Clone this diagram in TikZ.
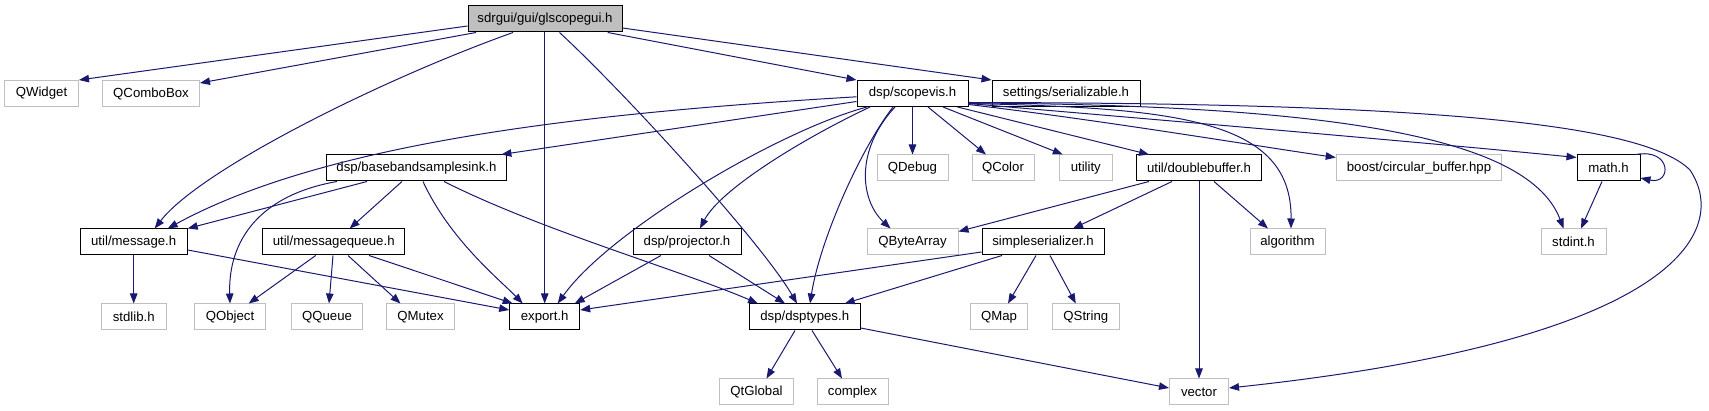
\documentclass[tikz,border=0pt]{standalone}
\usepackage{fontspec}
\setmainfont{Liberation Sans}
\usetikzlibrary{arrows.meta}
\definecolor{edgecol}{HTML}{191970}
\definecolor{greyseventyfive}{HTML}{BFBFBF}
\begin{document}
\begin{tikzpicture}[x=1pt,y=-1pt,
  box/.style={draw=black,line width=1pt,minimum height=26pt,inner sep=0pt,font=\fontsize{13.2}{15}\selectfont,anchor=center},
  ext/.style={box,draw=greyseventyfive},
  rootbox/.style={box,fill=greyseventyfive},
  dep/.style={draw=edgecol,line width=1pt,-{Triangle[length=10pt,width=7.5pt]}}]
\useasboundingbox (0,0) rectangle (1709,411);
% row 0
\node[rootbox,minimum width=154pt] (root) at (545,19) {sdrgui/gui/glscopegui.h};
% row 1
\node[ext,minimum width=74pt] (QWidget) at (41.5,93.5) {QWidget};
\node[ext,minimum width=97pt] (QComboBox) at (151,93.5) {QComboBox};
\node[box,minimum width=111pt] (scopevis) at (912.5,93.5) {dsp/scopevis.h};
\node[box,minimum width=148pt] (serializable) at (1066,93.5) {settings/serializable.h};
% row 2
\node[box,minimum width=180pt] (bbs) at (416.4,168) {dsp/basebandsamplesink.h};
\node[ext,minimum width=71pt] (QDebug) at (912.5,168) {QDebug};
\node[ext,minimum width=62pt] (QColor) at (1003,168) {QColor};
\node[ext,minimum width=53pt] (utility) at (1085.8,168) {utility};
\node[box,minimum width=125.5pt] (dbuf) at (1199,168) {util/doublebuffer.h};
\node[ext,minimum width=165.5pt] (boost) at (1419,168) {boost/circular\_buffer.hpp};
\node[box,minimum width=63pt] (math) at (1608.5,168) {math.h};
% row 3
\node[box,minimum width=107pt] (message) at (133.7,242) {util/message.h};
\node[box,minimum width=142pt] (mq) at (333.7,242) {util/messagequeue.h};
\node[box,minimum width=108pt] (projector) at (687,242) {dsp/projector.h};
\node[ext,minimum width=91pt] (QByteArray) at (912.5,242) {QByteArray};
\node[box,minimum width=122pt] (simpleser) at (1043,242) {simpleserializer.h};
\node[ext,minimum width=75pt] (algorithm) at (1287.5,242) {algorithm};
\node[ext,minimum width=65pt] (stdint) at (1573.5,242) {stdint.h};
% row 4
\node[ext,minimum width=64.6pt] (stdlib) at (133.7,317) {stdlib.h};
\node[ext,minimum width=71pt] (QObject) at (230,317) {QObject};
\node[ext,minimum width=71pt] (QQueue) at (327,317) {QQueue};
\node[ext,minimum width=68pt] (QMutex) at (420.5,317) {QMutex};
\node[box,minimum width=70pt] (export) at (544.7,317) {export.h};
\node[box,minimum width=111pt] (dsptypes) at (804.7,317) {dsp/dsptypes.h};
\node[ext,minimum width=57.4pt] (QMap) at (999,317) {QMap};
\node[ext,minimum width=67pt] (QString) at (1085.8,317) {QString};
% row 5
\node[ext,minimum width=73.4pt] (QtGlobal) at (756.5,392) {QtGlobal};
\node[ext,minimum width=71pt] (complex) at (852.5,392) {complex};
\node[ext,minimum width=59pt] (vector) at (1199,392) {vector};

% root edges
\draw[dep] ([yshift=-7pt]root.west) -- (QWidget.north east);
\draw[dep] ([xshift=-69pt]root.south) -- ([yshift=-3pt]QComboBox.north east);
\draw[dep] ([xshift=-32pt]root.south) .. controls (380,80) and (200,170) .. ([xshift=21pt]message.north);
\draw[dep] (export.north |- root.south) -- (export.north);
\draw[dep] ([xshift=14.5pt]root.south) .. controls (620,88) and (760,240) .. ([xshift=-7.7pt]dsptypes.north);
\draw[dep] ([xshift=62.7pt]root.south) -- (scopevis.north west);
\draw[dep] ([yshift=-9pt]root.east) -- (serializable.north west);

% scopevis edges
\draw[dep] ([yshift=-3.3pt]scopevis.west) .. controls (600,112) and (330,140) .. ([xshift=34pt]message.north);
\draw[dep] ([yshift=-8pt]scopevis.west) -- ([xshift=85pt]bbs.north);
\draw[dep] ([xshift=-45.5pt]scopevis.south) .. controls (780,130) and (610,230) .. ([xshift=13pt]export.north);
\draw[dep] ([xshift=-42.5pt]scopevis.south) .. controls (800,140) and (720,190) .. ([xshift=13pt]projector.north);
\draw[dep] ([xshift=-19.5pt]scopevis.south) .. controls (860,150) and (820,240) .. ([xshift=5.3pt]dsptypes.north);
\draw[dep] ([xshift=-17.5pt]scopevis.south) .. controls (855,150) and (860,200) .. ([xshift=-22pt]QByteArray.north);
\draw[dep] (scopevis.south) -- (QDebug.north);
\draw[dep] ([xshift=15.5pt]scopevis.south) -- ([xshift=-17pt]QColor.north);
\draw[dep] ([xshift=30.5pt]scopevis.south) -- ([xshift=-23pt]utility.north);
\draw[dep] ([xshift=45pt]scopevis.south) -- ([xshift=-50pt]dbuf.north);
\draw[dep] ([yshift=-11pt]scopevis.east) .. controls (1100,120) and (1250,145) .. ([yshift=-3pt]boost.north west);
\draw[dep] ([yshift=-10pt]scopevis.east) .. controls (1100,115) and (1400,140) .. ([yshift=-3pt]math.north west);
\draw[dep] ([yshift=-10pt]scopevis.east) .. controls (1180,108) and (1292,120) .. ([xshift=3.5pt]algorithm.north);
\draw[dep] ([yshift=-9.5pt]scopevis.east) .. controls (1350,105) and (1530,140) .. ([xshift=-10pt]stdint.north);
\coordinate (vbend) at (1690,170);
\draw[dep] ([yshift=-9pt]scopevis.east) .. controls (1400,103) and (1640,120) .. (vbend) .. controls (1730,230) and (1680,340) .. ([yshift=4pt]vector.east);

% basebandsamplesink edges
\draw[dep] ([xshift=-79.4pt]bbs.south) .. controls (260,195) and (228,240) .. (QObject.north);
\draw[dep] ([xshift=-49.4pt]bbs.south) -- (message.north east);
\draw[dep] ([xshift=-14.4pt]bbs.south) -- ([xshift=16pt]mq.north);
\draw[dep] ([xshift=6.6pt]bbs.south) .. controls (450,240) and (500,280) .. ([xshift=-22pt]export.north);
\draw[dep] ([xshift=27.6pt]bbs.south) .. controls (540,230) and (680,270) .. ([xshift=-46.7pt]dsptypes.north);

% message edges
\draw[dep] (message.south) -- (stdlib.north);
\draw[dep] ([yshift=-8pt]message.east) -- ([yshift=7pt]export.west);

% messagequeue edges
\draw[dep] ([xshift=-18pt]mq.south) -- ([xshift=18.7pt]QObject.north);
\draw[dep] ([xshift=-0.7pt]mq.south) -- ([xshift=2pt]QQueue.north);
\draw[dep] ([xshift=14.3pt]mq.south) -- ([xshift=-20pt]QMutex.north);
\draw[dep] ([xshift=35.3pt]mq.south) -- ([xshift=-32pt]export.north);

% projector edges
\draw[dep] ([xshift=-26pt]projector.south) -- ([xshift=30pt]export.north);
\draw[dep] ([xshift=22pt]projector.south) -- ([xshift=-19.7pt]dsptypes.north);

% doublebuffer edges
\draw[dep] ([xshift=-50pt]dbuf.south) -- ([yshift=-3pt]QByteArray.north east);
\draw[dep] ([xshift=-27pt]dbuf.south) -- ([xshift=30pt]simpleser.north);
\draw[dep] ([xshift=15pt]dbuf.south) -- ([xshift=-19.5pt]algorithm.north);
\draw[dep] (dbuf.south) -- (vector.north);

% simpleserializer edges
\draw[dep] ([yshift=-10pt]simpleser.west) -- ([yshift=7pt]export.east);
\draw[dep] ([xshift=-41pt]simpleser.south) -- ([xshift=40pt]dsptypes.north);
\draw[dep] ([xshift=-7pt]simpleser.south) -- ([xshift=9pt]QMap.north);
\draw[dep] ([xshift=7pt]simpleser.south) -- ([xshift=-10pt]QString.north);

% math edges
\draw[dep] ([xshift=27.5pt]math.north) .. controls (1672,148) and (1672,185) .. ([yshift=-10pt]math.east);
\draw[dep] ([xshift=-6.5pt]math.south) -- ([xshift=7.5pt]stdint.north);

% dsptypes edges
\draw[dep] ([xshift=-9.7pt]dsptypes.south) -- ([xshift=10pt]QtGlobal.north);
\draw[dep] ([xshift=7.3pt]dsptypes.south) -- ([xshift=-10.5pt]complex.north);
\draw[dep] ([yshift=-11pt]dsptypes.east) -- ([yshift=4pt]vector.west);
\end{tikzpicture}
\end{document}
